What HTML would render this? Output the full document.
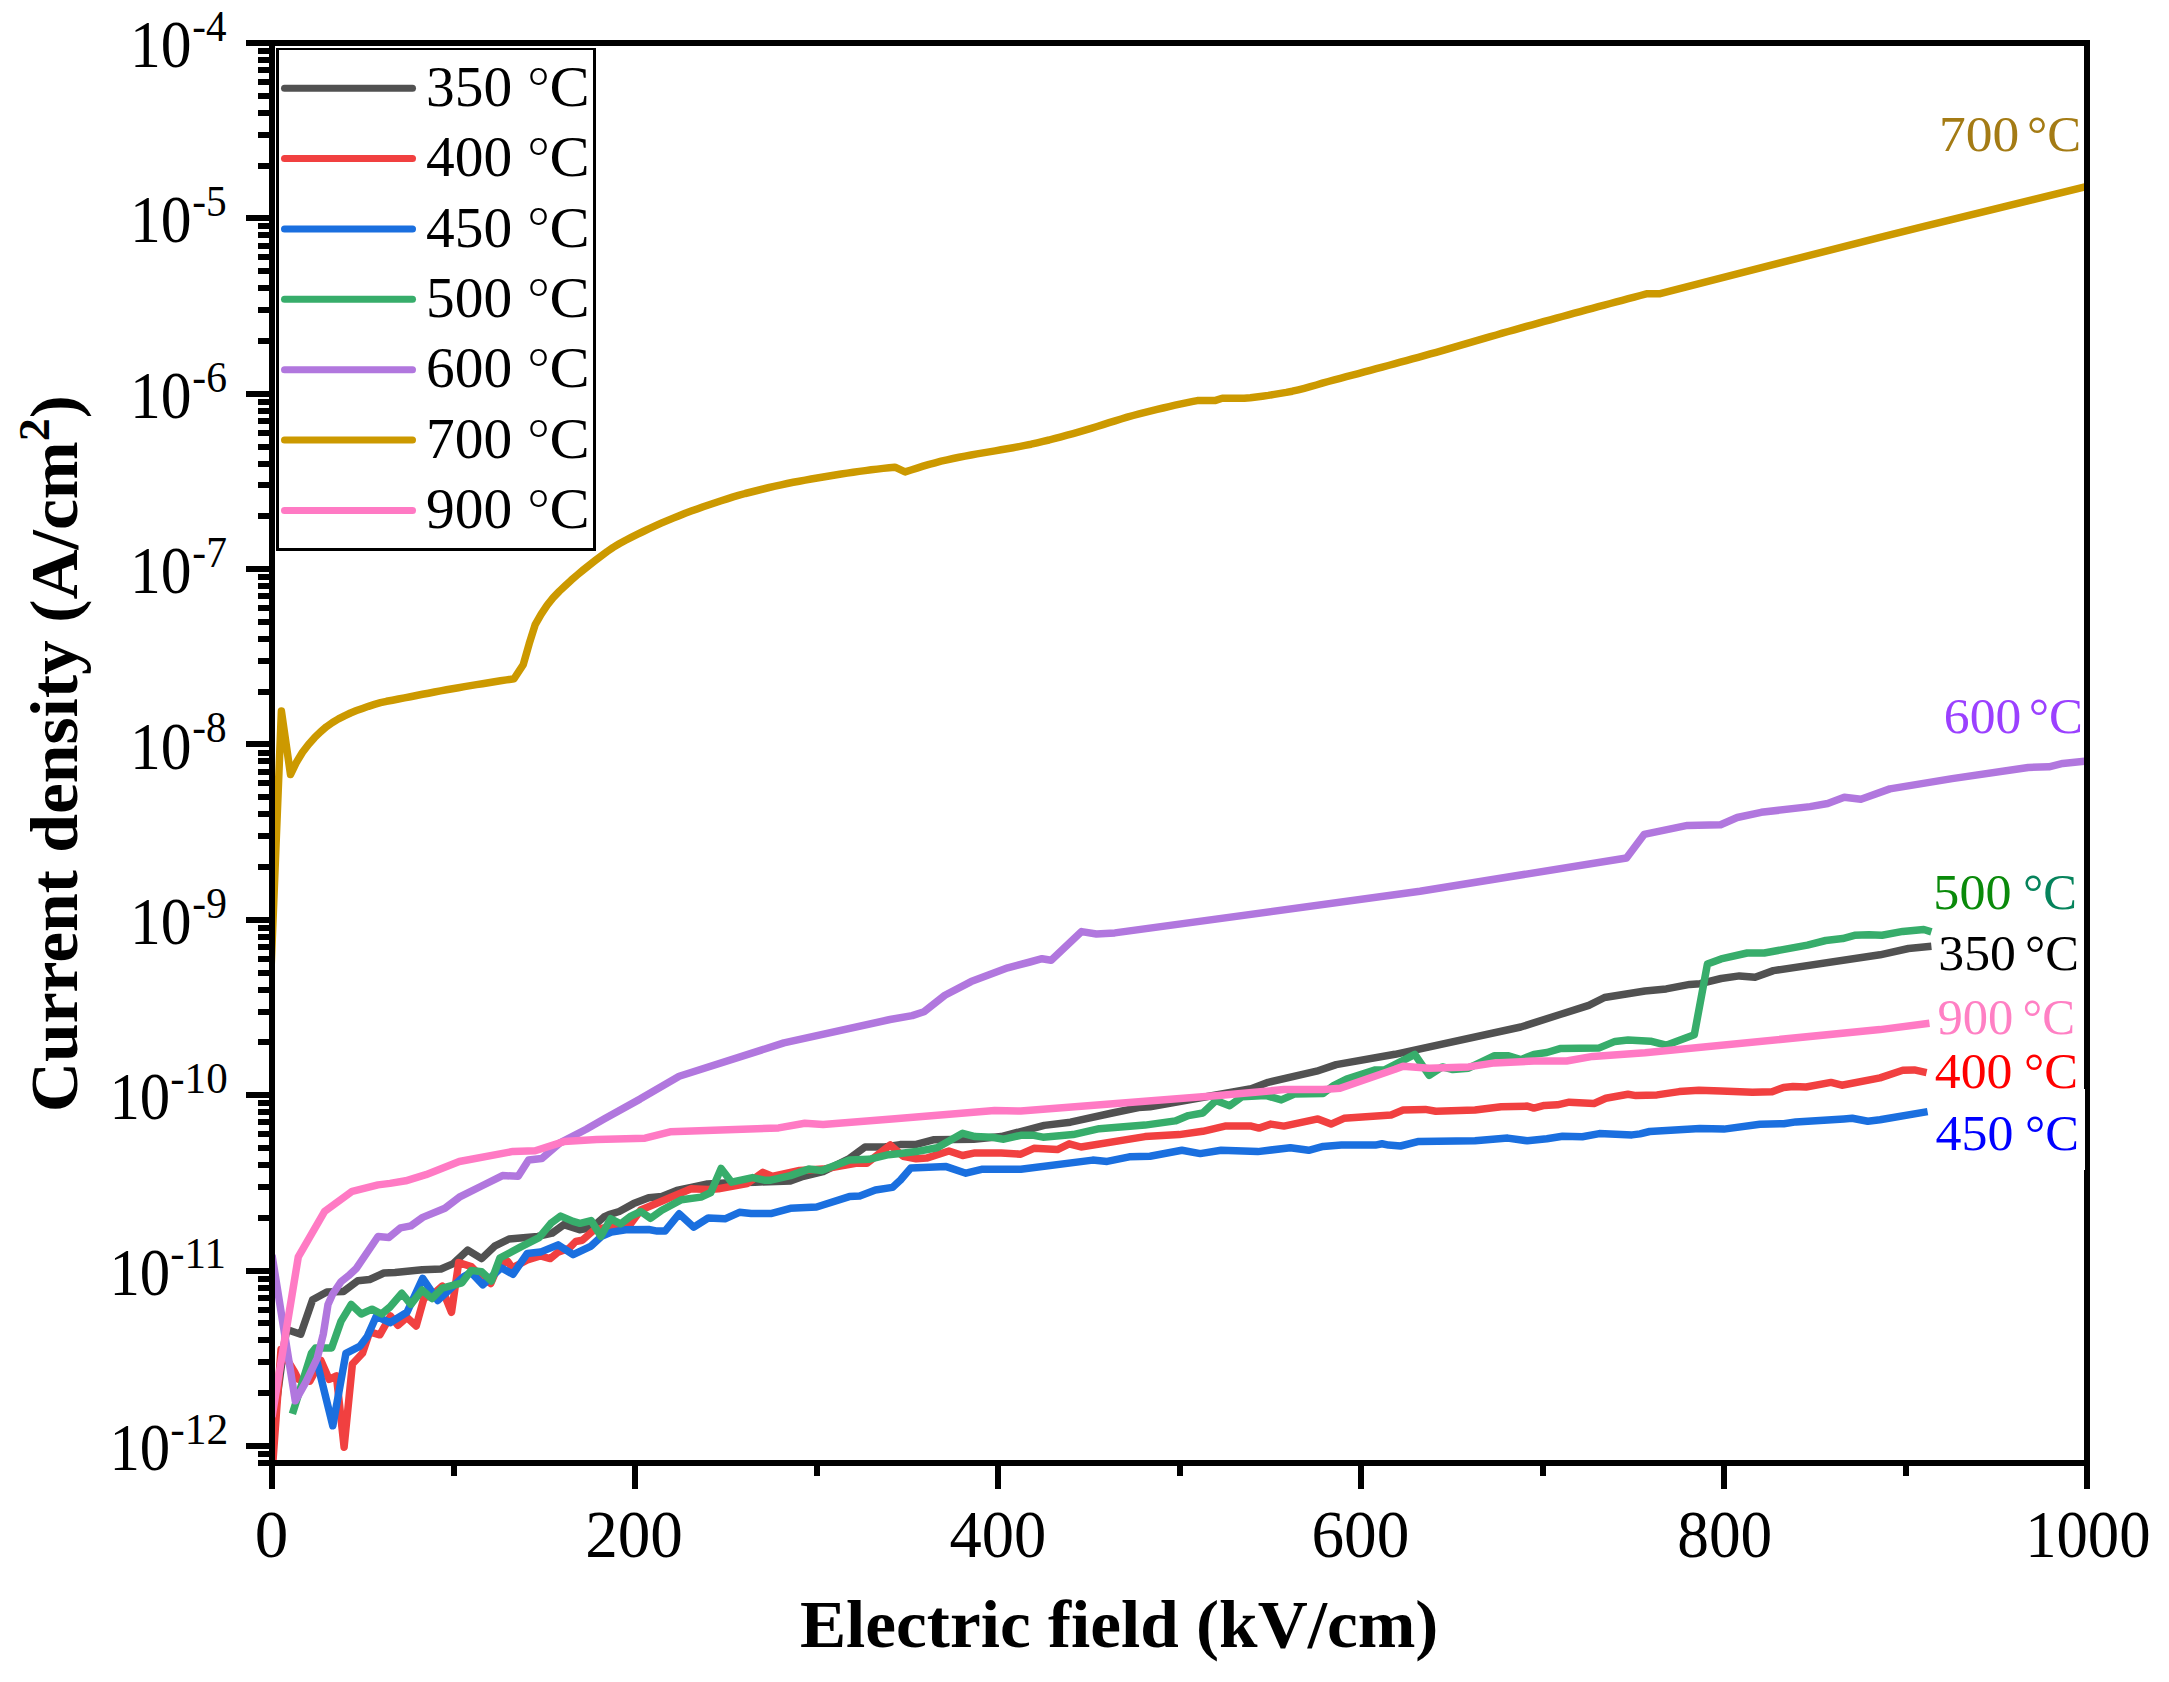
<!DOCTYPE html>
<html lang="en"><head><meta charset="utf-8"><title>Current density vs electric field</title>
<style>html,body{margin:0;padding:0;background:#fff}body{width:2169px;height:1682px;overflow:hidden}svg{display:block}text{font-family:"Liberation Serif","Times New Roman",serif;white-space:pre}</style></head><body>
<svg width="2169" height="1682" viewBox="0 0 2169 1682">
<rect width="2169" height="1682" fill="#fff"/>
<defs><clipPath id="plot"><rect x="272" y="43" width="1815" height="1420"/></clipPath></defs>
<g clip-path="url(#plot)" fill="none" stroke-width="7.5" stroke-linejoin="round" stroke-linecap="butt">
<path d="M272.0 1436.0 L279.5 1380.0 L284.7 1341.0 L286.8 1329.5 L300.7 1334.2 L312.6 1299.7 L326.8 1292.0 L343.5 1291.4 L357.8 1280.7 L369.7 1279.5 L383.9 1273.0 L395.0 1272.4 L422.2 1269.7 L441.0 1269.0 L452.8 1263.9 L467.8 1250.1 L481.6 1258.6 L494.6 1246.2 L509.0 1239.0 L537.8 1236.4 L552.2 1233.1 L563.9 1224.6 L579.6 1229.7 L589.2 1228.0 L596.0 1224.0 L604.0 1217.0 L609.0 1214.7 L619.2 1211.5 L633.6 1203.6 L648.7 1197.7 L661.8 1196.4 L676.8 1190.5 L691.2 1187.3 L707.5 1184.0 L725.0 1183.0 L755.1 1182.2 L790.4 1180.9 L803.5 1176.3 L823.1 1171.7 L849.3 1158.6 L865.0 1146.9 L884.6 1146.9 L900.0 1144.6 L916.2 1144.4 L933.2 1139.8 L973.7 1139.2 L1001.2 1136.6 L1044.3 1125.4 L1070.5 1122.2 L1112.3 1113.0 L1138.5 1107.6 L1150.0 1106.8 L1251.2 1088.8 L1268.2 1082.3 L1316.6 1071.2 L1336.2 1064.6 L1395.0 1054.3 L1520.8 1027.0 L1560.0 1014.5 L1588.8 1005.4 L1604.5 997.5 L1645.0 991.0 L1666.2 988.9 L1689.7 984.4 L1700.2 983.7 L1721.1 978.5 L1739.4 975.9 L1755.1 977.2 L1773.4 970.6 L1880.0 954.8 L1908.5 948.5 L1931.4 946.2" stroke="#515151"/>
<path d="M272.0 1474.0 L273.1 1459.0 L281.0 1349.5 L294.7 1372.3 L298.3 1379.4 L309.8 1381.2 L320.9 1360.4 L329.2 1379.4 L336.4 1375.9 L344.1 1447.2 L352.4 1364.0 L362.5 1353.3 L369.7 1331.8 L379.8 1334.8 L390.5 1316.0 L397.8 1325.3 L407.0 1317.5 L416.2 1326.0 L424.0 1297.9 L431.9 1295.3 L442.3 1286.1 L446.2 1299.2 L451.5 1312.3 L458.7 1262.6 L471.1 1266.5 L481.6 1277.0 L490.7 1283.5 L498.6 1265.2 L507.7 1261.3 L512.3 1267.8 L527.3 1260.0 L540.4 1256.0 L550.2 1258.6 L558.1 1252.1 L569.2 1248.2 L575.7 1241.5 L582.3 1240.3 L594.0 1230.0 L611.0 1226.5 L629.0 1226.0 L640.8 1210.0 L671.6 1197.0 L691.2 1188.8 L708.0 1189.5 L718.5 1188.7 L747.2 1183.5 L762.9 1172.4 L772.1 1176.3 L799.6 1170.4 L823.1 1169.1 L855.8 1163.2 L866.9 1163.2 L890.3 1145.0 L903.1 1156.2 L916.2 1158.8 L926.6 1158.1 L948.9 1151.0 L962.6 1155.5 L975.0 1152.9 L1001.2 1152.9 L1020.8 1154.2 L1033.9 1148.3 L1057.4 1149.6 L1069.2 1143.8 L1081.0 1147.0 L1145.0 1136.6 L1179.2 1134.6 L1202.8 1131.3 L1225.0 1126.1 L1251.2 1126.1 L1259.0 1128.1 L1270.8 1124.1 L1283.9 1126.1 L1317.9 1118.9 L1331.0 1124.1 L1344.0 1118.3 L1391.1 1115.0 L1403.1 1110.0 L1425.3 1109.4 L1435.8 1111.3 L1475.0 1110.0 L1501.2 1106.8 L1527.3 1106.1 L1533.9 1108.1 L1544.3 1105.4 L1557.4 1104.8 L1569.2 1102.2 L1594.0 1103.5 L1605.8 1098.3 L1628.0 1094.3 L1635.9 1095.6 L1657.0 1094.9 L1679.2 1091.6 L1698.9 1090.3 L1721.1 1091.0 L1752.5 1092.3 L1772.1 1091.8 L1783.5 1087.4 L1793.0 1086.4 L1806.1 1087.0 L1831.0 1082.4 L1841.8 1085.2 L1880.0 1077.9 L1902.8 1070.3 L1914.3 1069.9 L1926.6 1072.6" stroke="#F14040"/>
<path d="M309.0 1372.0 L317.3 1362.8 L332.8 1425.8 L345.9 1353.3 L360.1 1346.1 L367.3 1336.6 L376.2 1316.4 L390.0 1322.7 L407.0 1312.3 L422.7 1278.3 L437.7 1300.5 L463.2 1277.0 L471.1 1272.4 L482.9 1284.8 L501.2 1267.8 L512.9 1274.3 L527.3 1253.4 L540.4 1252.1 L558.1 1244.9 L573.1 1254.7 L580.0 1251.4 L591.1 1246.1 L601.6 1236.3 L611.4 1232.1 L625.8 1229.8 L648.7 1229.5 L657.2 1231.1 L665.0 1231.1 L679.1 1213.8 L693.8 1227.2 L708.2 1218.0 L725.0 1218.8 L739.4 1212.3 L751.2 1213.6 L770.8 1213.6 L790.4 1208.3 L816.6 1207.0 L849.3 1196.6 L859.7 1195.9 L875.4 1190.0 L892.4 1187.4 L900.5 1180.0 L910.9 1167.9 L946.2 1166.6 L965.9 1173.2 L981.6 1169.3 L1020.8 1169.3 L1092.7 1160.1 L1107.1 1161.4 L1129.3 1156.8 L1150.0 1156.2 L1181.9 1150.3 L1200.2 1153.6 L1221.1 1150.3 L1257.7 1151.6 L1290.4 1147.7 L1308.7 1150.3 L1323.1 1146.4 L1341.4 1145.1 L1375.4 1145.1 L1382.0 1143.8 L1388.5 1145.1 L1400.5 1146.0 L1418.8 1141.4 L1475.0 1140.8 L1507.7 1138.1 L1527.3 1140.8 L1546.9 1138.8 L1562.6 1136.2 L1582.3 1136.8 L1599.3 1133.6 L1632.0 1134.9 L1640.0 1133.9 L1649.6 1131.5 L1699.9 1128.5 L1723.9 1129.1 L1759.9 1124.3 L1783.8 1123.7 L1795.8 1121.9 L1843.8 1118.9 L1852.2 1118.3 L1867.8 1121.3 L1880.0 1119.8 L1927.6 1111.6" stroke="#1A6FDF"/>
<path d="M292.4 1413.9 L311.4 1353.3 L315.5 1348.0 L331.6 1347.9 L341.1 1321.1 L351.2 1304.5 L361.3 1314.0 L372.0 1309.2 L381.6 1314.0 L390.0 1307.0 L401.8 1293.3 L410.9 1304.4 L422.0 1290.0 L431.9 1298.5 L442.3 1288.1 L461.9 1282.8 L471.1 1270.4 L481.6 1271.7 L491.4 1280.9 L499.9 1258.0 L520.8 1246.9 L539.1 1237.7 L550.9 1223.3 L560.7 1216.1 L573.1 1221.4 L580.0 1223.3 L591.1 1220.6 L600.9 1236.3 L610.7 1218.7 L620.5 1223.9 L631.0 1216.1 L640.8 1211.5 L650.6 1218.3 L661.8 1210.2 L681.4 1199.7 L701.0 1197.1 L710.8 1192.5 L721.1 1168.4 L731.6 1182.2 L752.5 1177.6 L764.2 1180.2 L770.8 1180.2 L790.4 1175.6 L808.7 1169.1 L821.8 1170.4 L849.3 1159.9 L868.9 1159.3 L888.5 1154.7 L900.0 1153.4 L916.2 1151.6 L937.1 1147.7 L962.6 1133.3 L975.0 1136.6 L992.0 1137.2 L1003.8 1139.2 L1020.8 1135.3 L1033.9 1135.3 L1043.0 1137.2 L1073.1 1134.6 L1099.3 1128.7 L1145.0 1125.1 L1175.3 1120.9 L1188.4 1115.6 L1202.8 1113.0 L1215.9 1100.6 L1229.6 1105.8 L1242.0 1096.7 L1265.6 1095.4 L1281.3 1099.9 L1294.3 1094.1 L1323.1 1093.4 L1333.6 1085.6 L1346.6 1079.0 L1375.4 1069.9 L1384.6 1069.9 L1414.8 1054.4 L1429.2 1075.4 L1442.3 1066.9 L1452.8 1069.5 L1468.5 1068.2 L1494.6 1055.7 L1507.7 1055.7 L1520.8 1059.7 L1533.9 1054.4 L1546.9 1052.5 L1560.0 1048.6 L1599.3 1047.9 L1615.0 1041.4 L1628.0 1040.1 L1650.5 1041.2 L1666.2 1045.2 L1694.3 1034.7 L1707.4 964.1 L1721.1 958.9 L1747.2 953.0 L1764.2 953.0 L1807.4 945.1 L1825.7 940.5 L1842.7 938.6 L1854.5 935.3 L1868.9 934.7 L1882.0 935.3 L1902.8 931.4 L1923.8 929.5 L1931.4 931.9" stroke="#37AD6B"/>
<path d="M272.0 1255.0 L295.3 1400.8 L306.0 1381.8 L317.3 1358.0 L323.3 1334.2 L328.0 1304.5 L332.8 1293.8 L341.1 1281.6 L348.3 1275.9 L356.0 1268.8 L378.0 1236.5 L389.0 1237.4 L400.5 1227.9 L410.9 1225.9 L422.7 1217.4 L444.9 1208.3 L459.3 1197.2 L481.6 1186.0 L502.5 1175.6 L518.2 1176.2 L528.6 1159.9 L541.7 1158.6 L560.0 1142.9 L586.2 1129.2 L604.5 1118.7 L640.0 1099.1 L679.2 1076.2 L783.9 1042.9 L890.0 1019.5 L912.2 1015.6 L924.0 1011.7 L944.9 995.3 L971.1 981.6 L1007.7 967.8 L1030.0 962.0 L1042.0 958.7 L1051.2 960.2 L1081.6 931.6 L1096.4 934.0 L1114.8 932.9 L1420.0 891.2 L1626.5 858.0 L1644.1 834.4 L1687.4 825.4 L1720.6 824.8 L1737.2 817.5 L1761.2 812.3 L1810.0 806.6 L1827.7 803.5 L1844.3 797.2 L1860.9 799.3 L1889.9 788.9 L1952.1 778.6 L2028.2 767.5 L2049.0 766.8 L2062.8 763.4 L2087.0 761.0" stroke="#B177DE"/>
<path d="M270.5 983.0 L281.4 711.0 L290.5 774.5 L296.5 762.2 L302.5 752.3 L308.5 744.4 L314.5 737.7 L320.5 731.8 L326.5 726.7 L332.5 722.5 L338.5 718.9 L344.5 715.8 L350.5 713.0 L356.5 710.6 L362.5 708.4 L368.5 706.3 L374.5 704.4 L380.5 702.7 L386.5 701.3 L392.5 700.2 L398.5 699.0 L404.5 697.9 L410.5 696.7 L416.5 695.5 L422.5 694.3 L428.5 693.2 L434.5 692.0 L440.5 690.9 L446.5 689.8 L452.5 688.7 L458.5 687.7 L464.5 686.6 L470.5 685.6 L476.5 684.6 L482.5 683.7 L488.5 682.7 L494.5 681.7 L500.5 680.8 L506.5 679.9 L512.5 679.0 L514.0 678.8 L523.2 664.7 L529.2 643.7 L535.2 624.6 L541.2 614.1 L547.2 605.1 L553.2 597.7 L559.2 591.4 L565.2 585.7 L571.2 580.2 L577.2 575.0 L583.2 570.0 L589.2 565.2 L595.2 560.5 L601.2 555.9 L607.2 551.5 L613.2 547.4 L619.2 543.8 L625.2 540.5 L631.2 537.4 L637.2 534.4 L643.2 531.5 L649.2 528.7 L655.2 525.9 L661.2 523.2 L667.2 520.6 L673.2 518.1 L679.2 515.7 L685.2 513.3 L691.2 511.1 L697.2 508.9 L703.2 506.7 L709.2 504.7 L715.2 502.7 L721.2 500.7 L727.2 498.8 L733.2 496.9 L739.2 495.2 L745.2 493.5 L751.2 492.0 L757.2 490.5 L763.2 489.0 L769.2 487.5 L775.2 486.2 L781.2 484.8 L787.2 483.5 L793.2 482.3 L799.2 481.2 L805.2 480.1 L811.2 479.0 L817.2 478.0 L823.2 477.0 L829.2 476.0 L835.2 475.0 L841.2 474.0 L847.2 473.1 L853.2 472.2 L859.2 471.4 L865.2 470.6 L871.2 469.8 L877.2 469.1 L883.2 468.4 L889.2 467.8 L894.9 467.2 L905.1 471.9 L911.1 470.0 L917.1 468.1 L923.1 466.2 L929.1 464.4 L935.1 462.8 L941.1 461.2 L947.1 459.8 L953.1 458.5 L959.1 457.3 L965.1 456.1 L971.1 455.0 L977.1 453.9 L983.1 452.9 L989.1 451.9 L995.1 450.9 L1001.1 449.8 L1007.1 448.8 L1013.1 447.7 L1019.1 446.6 L1025.1 445.4 L1031.1 444.2 L1037.1 442.8 L1043.1 441.4 L1049.1 440.0 L1055.1 438.4 L1061.1 436.8 L1067.1 435.2 L1073.1 433.6 L1079.1 431.9 L1085.1 430.2 L1091.1 428.4 L1097.1 426.5 L1103.1 424.6 L1109.1 422.7 L1115.1 420.8 L1121.1 419.0 L1127.1 417.2 L1133.1 415.5 L1139.1 413.9 L1145.1 412.4 L1151.1 410.9 L1157.1 409.4 L1163.1 408.0 L1169.1 406.6 L1175.1 405.2 L1181.1 403.9 L1187.1 402.6 L1193.1 401.4 L1197.3 400.6 L1214.8 400.6 L1222.2 398.2 L1244.3 398.2 L1250.3 397.7 L1256.3 397.0 L1262.3 396.2 L1268.3 395.4 L1274.3 394.4 L1280.3 393.4 L1286.3 392.4 L1292.3 391.2 L1298.3 389.8 L1304.3 388.3 L1310.3 386.7 L1316.3 385.0 L1322.3 383.2 L1328.3 381.5 L1334.3 379.9 L1340.3 378.3 L1346.3 376.7 L1352.3 375.2 L1358.3 373.6 L1364.3 371.9 L1370.3 370.3 L1376.3 368.7 L1382.3 367.1 L1388.3 365.5 L1394.3 363.9 L1400.3 362.2 L1406.3 360.6 L1412.3 358.9 L1418.3 357.3 L1424.3 355.6 L1430.3 353.9 L1436.3 352.3 L1442.3 350.6 L1448.3 348.8 L1454.3 347.1 L1460.3 345.4 L1466.3 343.6 L1472.3 341.9 L1478.3 340.2 L1484.3 338.4 L1490.3 336.7 L1496.3 335.0 L1502.3 333.2 L1508.3 331.5 L1514.3 329.8 L1520.3 328.1 L1526.3 326.4 L1532.3 324.8 L1538.3 323.1 L1544.3 321.4 L1550.3 319.8 L1556.3 318.1 L1562.3 316.5 L1568.3 314.8 L1574.3 313.2 L1580.3 311.6 L1586.3 309.9 L1592.3 308.3 L1598.3 306.7 L1604.3 305.1 L1610.3 303.5 L1616.3 301.9 L1622.3 300.3 L1628.3 298.7 L1634.3 297.1 L1640.3 295.5 L1646.3 293.9 L1647.2 293.7 L1660.2 293.7 L1880.0 237.3 L1920.0 227.3 L2087.0 186.5" stroke="#CC9900"/>
<path d="M272.0 1417.0 L298.3 1256.8 L324.5 1211.6 L352.2 1191.3 L378.0 1184.9 L390.0 1183.4 L405.7 1180.8 L425.9 1174.7 L459.3 1161.5 L512.9 1151.4 L535.2 1150.7 L563.9 1141.6 L596.6 1139.6 L645.0 1138.2 L670.1 1131.8 L778.6 1127.9 L804.8 1123.3 L823.1 1124.6 L895.0 1118.8 L994.6 1110.4 L1020.8 1111.1 L1145.0 1101.2 L1218.5 1095.4 L1257.7 1092.1 L1283.9 1089.5 L1323.1 1089.5 L1340.1 1088.2 L1395.0 1069.3 L1403.1 1066.2 L1429.2 1068.2 L1468.5 1066.9 L1494.6 1062.9 L1533.9 1061.0 L1566.6 1061.0 L1592.7 1056.4 L1645.0 1052.7 L1880.0 1029.6 L1929.5 1023.3" stroke="#FF7AC4"/>
</g>
<g fill="#000" shape-rendering="crispEdges">
<rect x="246" y="40" width="1844" height="6"/>
<rect x="258" y="1460" width="1832" height="6"/>
<rect x="269" y="40" width="6" height="1449"/>
<rect x="2084" y="40" width="6" height="1449"/>
<rect x="258" y="163" width="14" height="6"/>
<rect x="258" y="132" width="14" height="6"/>
<rect x="258" y="110" width="14" height="6"/>
<rect x="258" y="93" width="14" height="6"/>
<rect x="258" y="79" width="14" height="6"/>
<rect x="258" y="67" width="14" height="6"/>
<rect x="258" y="57" width="14" height="6"/>
<rect x="258" y="48" width="14" height="6"/>
<rect x="246" y="215" width="26" height="6"/>
<rect x="258" y="338" width="14" height="6"/>
<rect x="258" y="307" width="14" height="6"/>
<rect x="258" y="285" width="14" height="6"/>
<rect x="258" y="268" width="14" height="6"/>
<rect x="258" y="254" width="14" height="6"/>
<rect x="258" y="243" width="14" height="6"/>
<rect x="258" y="232" width="14" height="6"/>
<rect x="258" y="223" width="14" height="6"/>
<rect x="246" y="391" width="26" height="6"/>
<rect x="258" y="513" width="14" height="6"/>
<rect x="258" y="482" width="14" height="6"/>
<rect x="258" y="461" width="14" height="6"/>
<rect x="258" y="444" width="14" height="6"/>
<rect x="258" y="430" width="14" height="6"/>
<rect x="258" y="418" width="14" height="6"/>
<rect x="258" y="408" width="14" height="6"/>
<rect x="258" y="399" width="14" height="6"/>
<rect x="246" y="566" width="26" height="6"/>
<rect x="258" y="689" width="14" height="6"/>
<rect x="258" y="658" width="14" height="6"/>
<rect x="258" y="636" width="14" height="6"/>
<rect x="258" y="619" width="14" height="6"/>
<rect x="258" y="605" width="14" height="6"/>
<rect x="258" y="593" width="14" height="6"/>
<rect x="258" y="583" width="14" height="6"/>
<rect x="258" y="574" width="14" height="6"/>
<rect x="246" y="741" width="26" height="6"/>
<rect x="258" y="864" width="14" height="6"/>
<rect x="258" y="833" width="14" height="6"/>
<rect x="258" y="811" width="14" height="6"/>
<rect x="258" y="794" width="14" height="6"/>
<rect x="258" y="780" width="14" height="6"/>
<rect x="258" y="769" width="14" height="6"/>
<rect x="258" y="758" width="14" height="6"/>
<rect x="258" y="750" width="14" height="6"/>
<rect x="246" y="917" width="26" height="6"/>
<rect x="258" y="1039" width="14" height="6"/>
<rect x="258" y="1009" width="14" height="6"/>
<rect x="258" y="987" width="14" height="6"/>
<rect x="258" y="970" width="14" height="6"/>
<rect x="258" y="956" width="14" height="6"/>
<rect x="258" y="944" width="14" height="6"/>
<rect x="258" y="934" width="14" height="6"/>
<rect x="258" y="925" width="14" height="6"/>
<rect x="246" y="1092" width="26" height="6"/>
<rect x="258" y="1215" width="14" height="6"/>
<rect x="258" y="1184" width="14" height="6"/>
<rect x="258" y="1162" width="14" height="6"/>
<rect x="258" y="1145" width="14" height="6"/>
<rect x="258" y="1131" width="14" height="6"/>
<rect x="258" y="1119" width="14" height="6"/>
<rect x="258" y="1109" width="14" height="6"/>
<rect x="258" y="1100" width="14" height="6"/>
<rect x="246" y="1268" width="26" height="6"/>
<rect x="258" y="1390" width="14" height="6"/>
<rect x="258" y="1359" width="14" height="6"/>
<rect x="258" y="1337" width="14" height="6"/>
<rect x="258" y="1320" width="14" height="6"/>
<rect x="258" y="1307" width="14" height="6"/>
<rect x="258" y="1295" width="14" height="6"/>
<rect x="258" y="1285" width="14" height="6"/>
<rect x="258" y="1276" width="14" height="6"/>
<rect x="246" y="1443" width="26" height="6"/>
<rect x="258" y="1451" width="14" height="6"/>
<rect x="632" y="1463" width="6" height="26"/>
<rect x="995" y="1463" width="6" height="26"/>
<rect x="1358" y="1463" width="6" height="26"/>
<rect x="1721" y="1463" width="6" height="26"/>
<rect x="451" y="1463" width="6" height="13"/>
<rect x="814" y="1463" width="6" height="13"/>
<rect x="1177" y="1463" width="6" height="13"/>
<rect x="1540" y="1463" width="6" height="13"/>
<rect x="1903" y="1463" width="6" height="13"/>
<rect x="2084" y="1089" width="1" height="81" fill="#fff"/>
</g>
<rect x="276" y="48" width="320" height="503" fill="#000" shape-rendering="crispEdges"/><rect x="279" y="50" width="314" height="498" fill="#fff" shape-rendering="crispEdges"/>
<line x1="284.5" y1="88.3" x2="412.5" y2="88.3" stroke="#515151" stroke-width="7" stroke-linecap="round"/>
<text y="105.8" font-size="57.4" fill="#000" xml:space="preserve"><tspan x="426.0">350 </tspan><tspan x="527.8" dy="8.9" font-size="62.8" style="font-family:'Noto Serif CJK SC','Noto Serif CJK JP','Liberation Serif',serif">°</tspan><tspan x="549.4" dy="-8.9" textLength="40.2" lengthAdjust="spacingAndGlyphs">C</tspan></text>
<line x1="284.5" y1="158.6" x2="412.5" y2="158.6" stroke="#F14040" stroke-width="7" stroke-linecap="round"/>
<text y="176.1" font-size="57.4" fill="#000" xml:space="preserve"><tspan x="426.0">400 </tspan><tspan x="527.8" dy="8.9" font-size="62.8" style="font-family:'Noto Serif CJK SC','Noto Serif CJK JP','Liberation Serif',serif">°</tspan><tspan x="549.4" dy="-8.9" textLength="40.2" lengthAdjust="spacingAndGlyphs">C</tspan></text>
<line x1="284.5" y1="229.0" x2="412.5" y2="229.0" stroke="#1A6FDF" stroke-width="7" stroke-linecap="round"/>
<text y="246.5" font-size="57.4" fill="#000" xml:space="preserve"><tspan x="426.0">450 </tspan><tspan x="527.8" dy="8.9" font-size="62.8" style="font-family:'Noto Serif CJK SC','Noto Serif CJK JP','Liberation Serif',serif">°</tspan><tspan x="549.4" dy="-8.9" textLength="40.2" lengthAdjust="spacingAndGlyphs">C</tspan></text>
<line x1="284.5" y1="299.3" x2="412.5" y2="299.3" stroke="#37AD6B" stroke-width="7" stroke-linecap="round"/>
<text y="316.8" font-size="57.4" fill="#000" xml:space="preserve"><tspan x="426.0">500 </tspan><tspan x="527.8" dy="8.9" font-size="62.8" style="font-family:'Noto Serif CJK SC','Noto Serif CJK JP','Liberation Serif',serif">°</tspan><tspan x="549.4" dy="-8.9" textLength="40.2" lengthAdjust="spacingAndGlyphs">C</tspan></text>
<line x1="284.5" y1="369.7" x2="412.5" y2="369.7" stroke="#B177DE" stroke-width="7" stroke-linecap="round"/>
<text y="387.2" font-size="57.4" fill="#000" xml:space="preserve"><tspan x="426.0">600 </tspan><tspan x="527.8" dy="8.9" font-size="62.8" style="font-family:'Noto Serif CJK SC','Noto Serif CJK JP','Liberation Serif',serif">°</tspan><tspan x="549.4" dy="-8.9" textLength="40.2" lengthAdjust="spacingAndGlyphs">C</tspan></text>
<line x1="284.5" y1="440.1" x2="412.5" y2="440.1" stroke="#CC9900" stroke-width="7" stroke-linecap="round"/>
<text y="457.6" font-size="57.4" fill="#000" xml:space="preserve"><tspan x="426.0">700 </tspan><tspan x="527.8" dy="8.9" font-size="62.8" style="font-family:'Noto Serif CJK SC','Noto Serif CJK JP','Liberation Serif',serif">°</tspan><tspan x="549.4" dy="-8.9" textLength="40.2" lengthAdjust="spacingAndGlyphs">C</tspan></text>
<line x1="284.5" y1="510.4" x2="412.5" y2="510.4" stroke="#FF7AC4" stroke-width="7" stroke-linecap="round"/>
<text y="527.9" font-size="57.4" fill="#000" xml:space="preserve"><tspan x="426.0">900 </tspan><tspan x="527.8" dy="8.9" font-size="62.8" style="font-family:'Noto Serif CJK SC','Noto Serif CJK JP','Liberation Serif',serif">°</tspan><tspan x="549.4" dy="-8.9" textLength="40.2" lengthAdjust="spacingAndGlyphs">C</tspan></text>
<text transform="translate(254.71,1557.00) scale(0.9874,1)" font-size="68.0" fill="#000" font-weight="normal" xml:space="preserve">0</text>
<text transform="translate(585.19,1557.00) scale(0.9580,1)" font-size="68.0" fill="#000" font-weight="normal" xml:space="preserve">200</text>
<text transform="translate(949.51,1557.00) scale(0.9487,1)" font-size="68.0" fill="#000" font-weight="normal" xml:space="preserve">400</text>
<text transform="translate(1311.49,1557.00) scale(0.9600,1)" font-size="68.0" fill="#000" font-weight="normal" xml:space="preserve">600</text>
<text transform="translate(1677.27,1557.00) scale(0.9310,1)" font-size="68.0" fill="#000" font-weight="normal" xml:space="preserve">800</text>
<text transform="translate(2025.15,1557.00) scale(0.9225,1)" font-size="68.0" fill="#000" font-weight="normal" xml:space="preserve">1000</text>
<text fill="#000" font-size="66.8"><tspan x="130.06" y="67.10" textLength="61.61" lengthAdjust="spacingAndGlyphs">10</tspan><tspan x="192.36" y="40.80" font-size="44.0" textLength="34.18" lengthAdjust="spacingAndGlyphs">-4</tspan></text>
<text fill="#000" font-size="66.8"><tspan x="130.06" y="242.47" textLength="61.61" lengthAdjust="spacingAndGlyphs">10</tspan><tspan x="192.35" y="216.18" font-size="44.0" textLength="34.45" lengthAdjust="spacingAndGlyphs">-5</tspan></text>
<text fill="#000" font-size="66.8"><tspan x="130.06" y="417.85" textLength="61.61" lengthAdjust="spacingAndGlyphs">10</tspan><tspan x="192.34" y="391.55" font-size="44.0" textLength="34.62" lengthAdjust="spacingAndGlyphs">-6</tspan></text>
<text fill="#000" font-size="66.8"><tspan x="130.06" y="593.23" textLength="61.61" lengthAdjust="spacingAndGlyphs">10</tspan><tspan x="192.34" y="566.92" font-size="44.0" textLength="34.55" lengthAdjust="spacingAndGlyphs">-7</tspan></text>
<text fill="#000" font-size="66.8"><tspan x="130.06" y="768.60" textLength="61.61" lengthAdjust="spacingAndGlyphs">10</tspan><tspan x="192.35" y="742.30" font-size="44.0" textLength="34.32" lengthAdjust="spacingAndGlyphs">-8</tspan></text>
<text fill="#000" font-size="66.8"><tspan x="130.06" y="943.98" textLength="61.61" lengthAdjust="spacingAndGlyphs">10</tspan><tspan x="192.34" y="917.67" font-size="44.0" textLength="34.53" lengthAdjust="spacingAndGlyphs">-9</tspan></text>
<text fill="#000" font-size="66.8"><tspan x="109.43" y="1119.35" textLength="60.80" lengthAdjust="spacingAndGlyphs">10</tspan><tspan x="170.28" y="1093.05" font-size="44.0" textLength="57.48" lengthAdjust="spacingAndGlyphs">-10</tspan></text>
<text fill="#000" font-size="66.8"><tspan x="109.43" y="1294.72" textLength="60.80" lengthAdjust="spacingAndGlyphs">10</tspan><tspan x="170.28" y="1268.42" font-size="44.0" textLength="55.65" lengthAdjust="spacingAndGlyphs">-11</tspan></text>
<text fill="#000" font-size="66.8"><tspan x="109.43" y="1470.10" textLength="60.80" lengthAdjust="spacingAndGlyphs">10</tspan><tspan x="170.26" y="1443.80" font-size="44.0" textLength="58.06" lengthAdjust="spacingAndGlyphs">-12</tspan></text>
<text y="151.0" font-size="49.8" fill="#A47B14" xml:space="preserve"><tspan x="1939.05" textLength="93.67" lengthAdjust="spacingAndGlyphs">700 </tspan><tspan x="2027.06" textLength="54.13" lengthAdjust="spacingAndGlyphs" fill="#A47B14">°C</tspan></text>
<text y="733.2" font-size="49.8" fill="#9B40FF" xml:space="preserve"><tspan x="1943.84" textLength="90.33" lengthAdjust="spacingAndGlyphs">600 </tspan><tspan x="2028.76" textLength="54.24" lengthAdjust="spacingAndGlyphs" fill="#9B40FF">°C</tspan></text>
<text y="909.2" font-size="49.8" fill="#0A8A0A" xml:space="preserve"><tspan x="1933.38" textLength="91.13" lengthAdjust="spacingAndGlyphs">500 </tspan><tspan x="2023.07" textLength="53.91" lengthAdjust="spacingAndGlyphs" fill="#06835C">°C</tspan></text>
<text y="970.0" font-size="49.8" fill="#000000" xml:space="preserve"><tspan x="1938.31" textLength="90.48" lengthAdjust="spacingAndGlyphs">350 </tspan><tspan x="2024.97" textLength="53.91" lengthAdjust="spacingAndGlyphs" fill="#000000">°C</tspan></text>
<text y="1033.8" font-size="49.8" fill="#FF80C4" xml:space="preserve"><tspan x="1937.48" textLength="88.48" lengthAdjust="spacingAndGlyphs">900 </tspan><tspan x="2022.54" textLength="52.46" lengthAdjust="spacingAndGlyphs" fill="#FF80C4">°C</tspan></text>
<text y="1087.7" font-size="49.8" fill="#FF0000" xml:space="preserve"><tspan x="1934.76" textLength="90.66" lengthAdjust="spacingAndGlyphs">400 </tspan><tspan x="2023.97" textLength="54.02" lengthAdjust="spacingAndGlyphs" fill="#FF0000">°C</tspan></text>
<text y="1150.0" font-size="49.8" fill="#0000FF" xml:space="preserve"><tspan x="1935.46" textLength="90.90" lengthAdjust="spacingAndGlyphs">450 </tspan><tspan x="2024.97" textLength="53.91" lengthAdjust="spacingAndGlyphs" fill="#0000FF">°C</tspan></text>
<text transform="translate(799.91,1646.8) scale(1.0264,1)" font-size="67.5" font-weight="bold" fill="#000" xml:space="preserve">Electric field (kV/cm)</text>
<text transform="translate(76.9,1112.18) rotate(-90) scale(1.0231,1)" font-size="68.0" font-weight="bold" fill="#000" xml:space="preserve">Current density (A/cm<tspan font-size="44.9" dy="-28.1">2</tspan><tspan dy="28.1">)</tspan></text>
</svg></body></html>
